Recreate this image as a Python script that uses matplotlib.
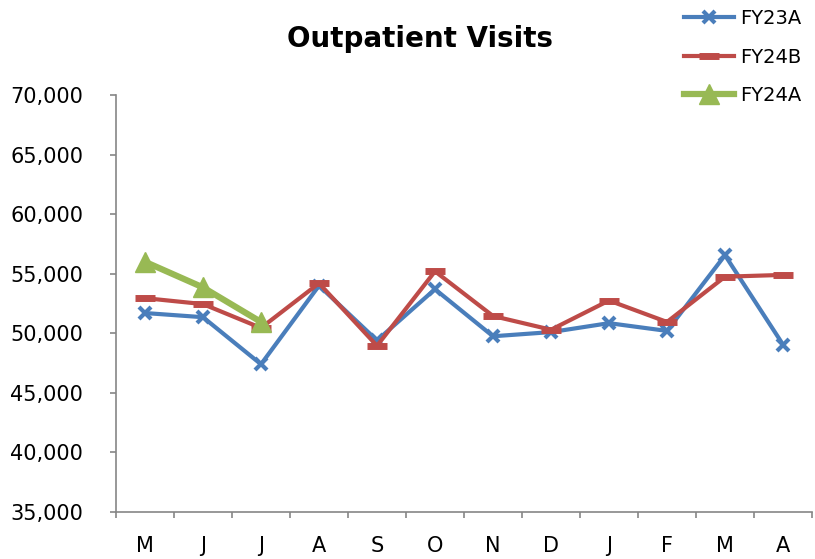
import matplotlib
matplotlib.use("Agg")
import matplotlib.pyplot as plt
from matplotlib.ticker import FuncFormatter, FixedLocator

months = ["M", "J", "J", "A", "S", "O", "N", "D", "J", "F", "M", "A"]
fy23a = [51700, 51350, 47400, 54000, 49400, 53700, 49750, 50100, 50850, 50200, 56550, 49050]
fy24b = [52950, 52450, 50450, 54200, 48950, 55200, 51450, 50300, 52750, 50950, 54750, 54900]
fy24a = [56000, 53850, 50950]
yticks = [35000, 40000, 45000, 50000, 55000, 60000, 65000, 70000]

fig = plt.figure(figsize=(8.15, 5.59), dpi=100)
ax = fig.add_axes([116/815, 1-512/559, (812-116)/815, (512-95)/559])

x = list(range(len(months)))
ax.plot(x, fy23a, color="#4A7EBB", lw=3, marker="x", ms=9, mew=3, label="FY23A", zorder=3)
ax.plot(x, fy24b, color="#BE4B48", lw=3, marker="_", ms=14, mew=5, label="FY24B", zorder=3)
ax.plot(x[:len(fy24a)], fy24a, color="#98B954", lw=4.5, marker="^", ms=15, label="FY24A", zorder=4)

ax.set_xlim(-0.5, 11.5)
ax.set_ylim(35000, 70000)
ax.set_yticks(yticks)
ax.yaxis.set_major_formatter(FuncFormatter(lambda v, p: f"{int(v):,}"))
ax.set_xticks(x)
ax.set_xticklabels(months)
ax.xaxis.set_minor_locator(FixedLocator([i - 0.5 for i in range(len(months) + 1)]))
ax.tick_params(axis="x", which="major", length=0, pad=17, labelsize=15)
ax.tick_params(axis="x", which="minor", length=4.5, width=1.2, color="#868686", direction="out")
ax.tick_params(axis="y", length=4.5, width=1.2, color="#868686", direction="out", pad=19, labelsize=15)

for s in ["top", "right"]:
    ax.spines[s].set_visible(False)
for s in ["left", "bottom"]:
    ax.spines[s].set_color("#868686")
    ax.spines[s].set_linewidth(1.2)

fig.text(0.515, 0.93, "Outpatient Visits", ha="center", va="center", fontsize=20, fontweight="bold")

leg = fig.legend(loc="upper right", bbox_to_anchor=(1.005, 1.015), frameon=False, fontsize=14,
                 handlelength=2.6, labelspacing=1.0, handletextpad=0.3)

fig.savefig("out.png", dpi=100)
